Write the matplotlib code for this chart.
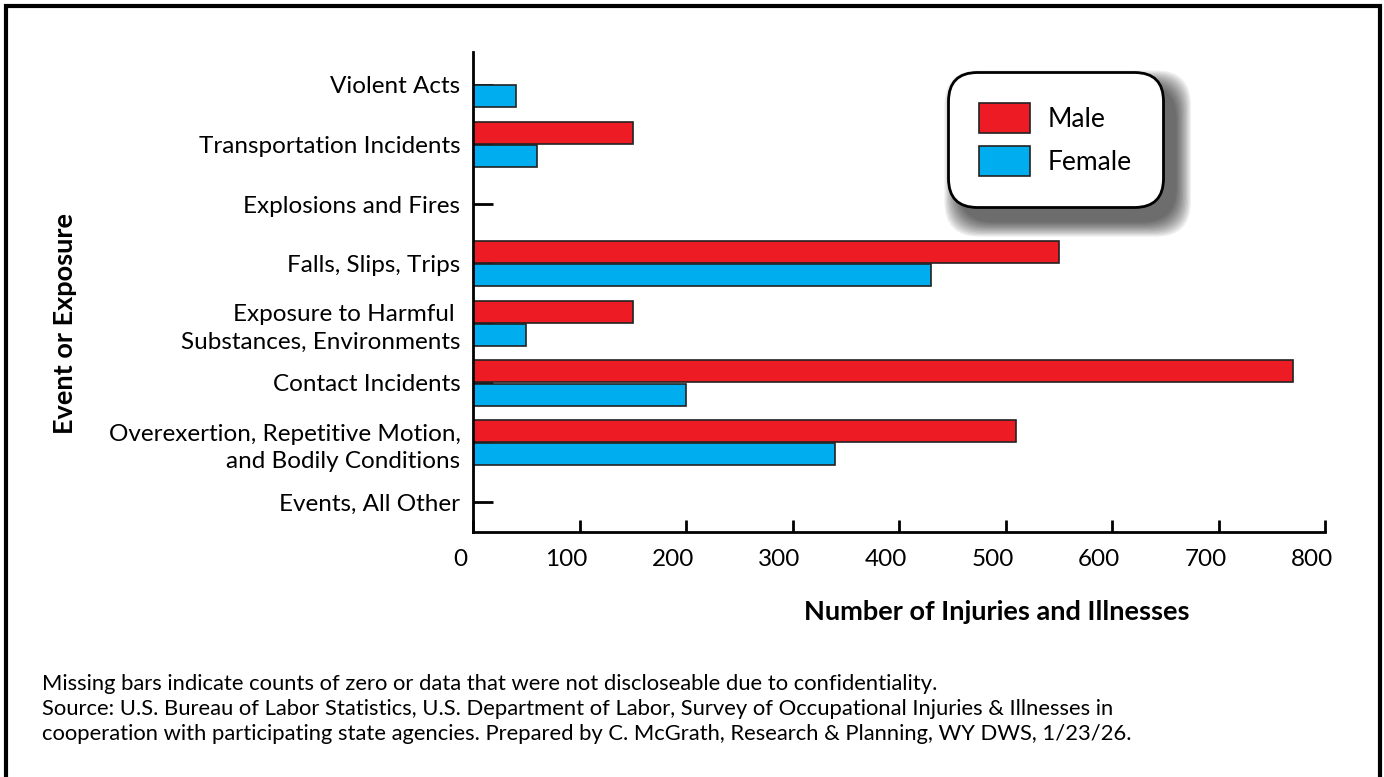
import matplotlib
matplotlib.use('Agg')
import matplotlib.pyplot as plt
import numpy as np
from matplotlib.patches import Rectangle, FancyBboxPatch
from matplotlib.transforms import ScaledTranslation

plt.rcParams['font.family'] = ['Lato', 'DejaVu Sans']

# Datos
categorias = ['Violent Acts', 'Transportation Incidents', 'Explosions and Fires',
              'Falls, Slips, Trips', 'Exposure to Harmful \nSubstances, Environments',
              'Contact Incidents', 'Overexertion, Repetitive Motion,\nand Bodily Conditions',
              'Events, All Other']
male = [0, 150, 0, 550, 150, 770, 510, 0]
female = [40, 60, 0, 430, 50, 200, 340, 0]
xticks = [0, 100, 200, 300, 400, 500, 600, 700, 800]

rojo = '#ED1C24'
azul = '#00AEEF'

fig = plt.figure(figsize=(13.84, 7.77), dpi=100)
ax = fig.add_axes([473 / 1384, 1 - 532 / 777, 852 / 1384, 480 / 777])

y = np.arange(len(categorias))
h = 0.37
ax.barh(y - h / 2 - 0.01, male, height=h, color=rojo, edgecolor='#222222', linewidth=1.2,
        label='Male', zorder=2)
ax.barh(y + h / 2 + 0.01, female, height=h, color=azul, edgecolor='#222222', linewidth=1.2,
        label='Female', zorder=2)

ax.set_ylim(len(categorias) - 0.5, -0.55)
ax.set_xlim(0, 800)
ax.set_yticks(y)
ax.set_yticklabels(categorias, fontsize=17.5, linespacing=1.4)
ax.set_xticks(xticks)
ax.set_xticklabels([str(v) for v in xticks], fontsize=17.5)

for s in ['top', 'right']:
    ax.spines[s].set_visible(False)
for s in ['left', 'bottom']:
    ax.spines[s].set_linewidth(2)
ax.tick_params(axis='y', direction='in', length=14.5, width=2, pad=9)
ax.tick_params(axis='x', direction='in', length=8.5, width=2, pad=12)
for lab in ax.get_xticklabels():
    lab.set_transform(lab.get_transform() + ScaledTranslation(-0.13, 0, fig.dpi_scale_trans))

ax.set_xlabel('Number of Injuries and Illnesses', fontsize=19.5, fontweight='bold')
ax.xaxis.set_label_coords((997 - 473) / 852, (532 - 612) / 480)
ax.xaxis.label.set_va('center')
ax.set_ylabel('Event or Exposure', fontsize=19.5, fontweight='bold')
ax.yaxis.set_label_coords((65 - 473) / 852, (532 - 324) / 480)
ax.yaxis.label.set_va('center')

leg = ax.legend(loc='upper left', bbox_to_anchor=((948 - 473) / 852, (532 - 72) / 480),
                fontsize=19, frameon=True, fancybox=True, handlelength=1.93,
                handleheight=1.36, handletextpad=0.68, labelspacing=0.5, borderpad=1.18,
                borderaxespad=0)
leg.get_frame().set_boxstyle('round', pad=0.0, rounding_size=1.1)
leg.get_frame().set_edgecolor('black')
leg.get_frame().set_linewidth(2)
leg.get_frame().set_alpha(1)
leg.set_zorder(10)

# sombra difuminada de la leyenda
fig.canvas.draw()
bb = leg.get_window_extent().transformed(fig.transFigure.inverted())
W, H = fig.get_size_inches() * fig.dpi
for i in range(12):
    grow = (12 - i) * 1.3
    sh = FancyBboxPatch((bb.x0 + (12 - grow) / W, bb.y0 - (14 + grow) / H),
                        bb.width + 2 * grow / W, bb.height + 2 * grow / H,
                        boxstyle='round,pad=0,rounding_size=0.025',
                        transform=fig.transFigure, facecolor='black', edgecolor='none',
                        alpha=0.065, zorder=9, mutation_aspect=W / H, clip_on=False)
    ax.add_patch(sh)

nota = ('Missing bars indicate counts of zero or data that were not discloseable due to confidentiality.\n'
        'Source: U.S. Bureau of Labor Statistics, U.S. Department of Labor, Survey of Occupational Injuries & Illnesses in\n'
        'cooperation with participating state agencies. Prepared by C. McGrath, Research & Planning, WY DWS, 1/23/26.')
fig.text(42 / 1384, 1 - 674 / 777, nota, fontsize=15.8, va='top', ha='left', linespacing=1.3)

fig.add_artist(Rectangle((6 / 1384, -0.05), (1380 - 6) / 1384, 1.05 - 6 / 777,
                         transform=fig.transFigure, fill=False, edgecolor='black', linewidth=3))

fig.savefig('out.png', dpi=100)
